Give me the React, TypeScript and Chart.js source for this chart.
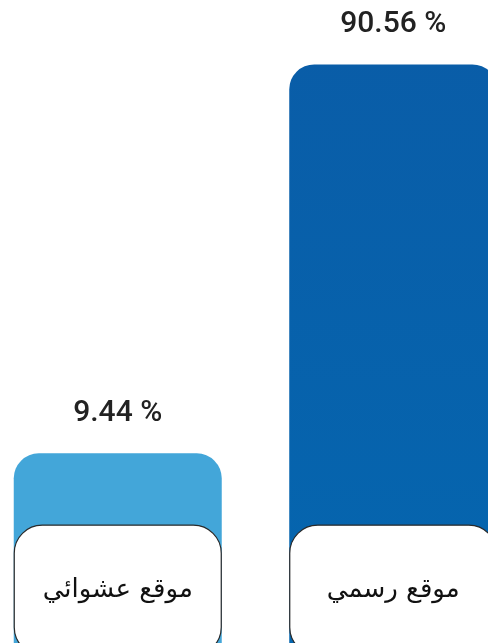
import React, { useEffect, useRef } from "react";
import { Chart, registerables } from "chart.js";
Chart.register(...registerables);

const categories = ["موقع عشوائي", "موقع رسمي"];
const values = [9.44, 90.56];
const valueLabels = ["9.44 %", "90.56 %"];
const barTopColors = ["#43a6d9", "#0a5ca7"];
const barBottomColors = ["#43a6d9", "#0467b0"];

export default function App() {
  const ref = useRef<HTMLCanvasElement>(null);
  useEffect(() => {
    document.body.style.margin = "0";
    document.body.style.overflow = "hidden";
    const ctx = ref.current!.getContext("2d")!;

    const labelPlugin = {
      id: "labelsAndBoxes",
      afterDatasetsDraw(chart: any) {
        const c = chart.ctx;
        const meta = chart.getDatasetMeta(0);
        const y0 = chart.scales.y.getPixelForValue(0);
        meta.data.forEach((bar: any, i: number) => {
          const { x, y, width } = bar.getProps(["x", "y", "width"], true);
          c.save();
          c.fillStyle = "#222";
          c.font = "500 30px Roboto";
          c.textAlign = "center";
          c.textBaseline = "middle";
          c.fillText(valueLabels[i], x, y - 40);

          const left = x - width / 2;
          const top = y0 + 26;
          const h = 130;
          c.beginPath();
          c.roundRect(left + 0.5, top + 0.5, width - 1, h, 28);
          c.fillStyle = "#ffffff";
          c.fill();
          c.strokeStyle = "#2a2a2a";
          c.lineWidth = 1.2;
          c.stroke();

          c.fillStyle = "#111111";
          c.font = "26px 'DejaVu Sans'";
          c.direction = "rtl";
          c.textAlign = "center";
          c.fillText(categories[i], x, top + 66);
          c.restore();
        });
      },
    };

    const chart = new Chart(ctx, {
      type: "bar",
      data: {
        labels: categories,
        datasets: [
          {
            data: values,
            base: -42,
            backgroundColor: (context: any) => {
              const i = context.dataIndex;
              const area = context.chart.chartArea;
              if (!area) return barBottomColors[i];
              const g = context.chart.ctx.createLinearGradient(0, area.top, 0, area.bottom);
              g.addColorStop(0, barTopColors[i]);
              g.addColorStop(1, barBottomColors[i]);
              return g;
            },
            borderWidth: 0,
            borderRadius: { topLeft: 25, topRight: 25, bottomLeft: 0, bottomRight: 0 },
            borderSkipped: false,
            barPercentage: 0.755,
            categoryPercentage: 1,
          } as any,
        ],
      },
      options: {
        animation: false,
        responsive: false,
        layout: { padding: 0 },
        plugins: { legend: { display: false }, tooltip: { enabled: false } },
        scales: {
          x: { display: false, offset: true },
          y: { display: false, min: -42, max: 104 },
        },
      },
      plugins: [labelPlugin],
    });
    return () => chart.destroy();
  }, []);

  return (
    <div style={{ width: 488, height: 643, overflow: "hidden", position: "relative", background: "#fff" }}>
      <canvas
        ref={ref}
        width={551}
        height={700}
        style={{ position: "absolute", left: -20, top: 0, width: 551, height: 700 }}
      />
    </div>
  );
}
